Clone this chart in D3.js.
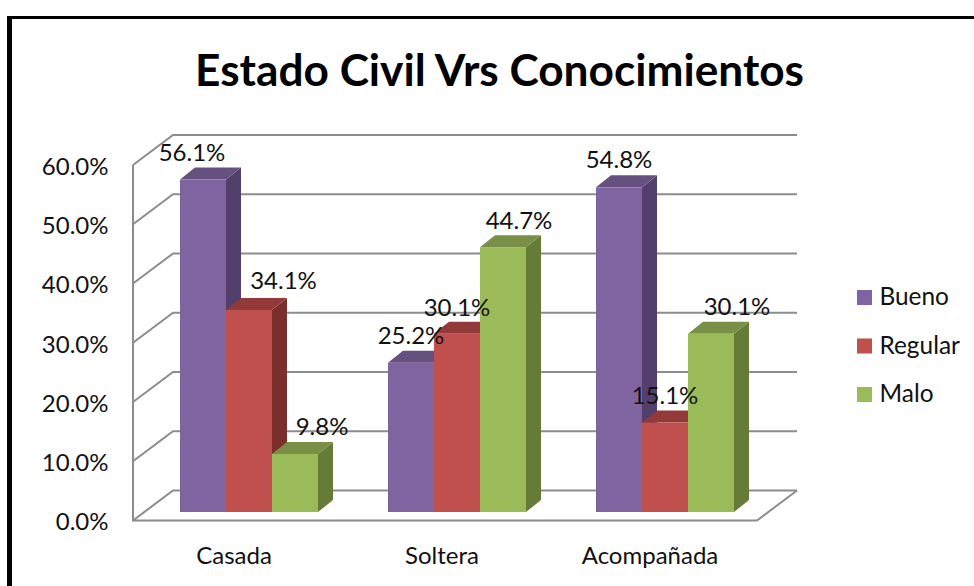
<!DOCTYPE html>
<html><head><meta charset="utf-8">
<script src="https://cdn.jsdelivr.net/npm/d3@7"></script>
<style>html,body{margin:0;padding:0;background:#fff}svg{display:block}text{font-family:Lato,sans-serif;fill:#111}</style>
</head><body><svg id="c" width="974" height="586"></svg>
<script>
const categories = ["Casada","Soltera","Acompañada"];
const seriesNames = ["Bueno","Regular","Malo"];
const bueno = [56.1,25.2,54.8];
const regular = [34.1,30.1,15.1];
const malo = [9.8,44.7,30.1];
const yTicks = [0,10,20,30,40,50,60];
const faceColors = ["#8064A2","#C0504D","#9BBB59"];
const topColors = ["#66507F","#933A38","#788F45"];
const sideColors = ["#533F6B","#7A2F2D","#667B38"];
// hand-placed label nudges from the centre of each bar's top edge, one list per series
const labelDx = [[-11,0,0],[34.5,0,0],[27,16,26]];
const labelDy = [[-27,-27,-27],[-29,-26,-27],[-27,-26,-26.7]];

const svg = d3.select("#c");
const dx = 40, dy = -30, bdx = 15, bdy = -12, floorLift = 8.5;
const x = d3.scaleBand().domain(categories).range([133,757]);
const y = d3.scaleLinear().domain([0,60]).range([520.5,165]);
const barW = 46;
const grid = "#8C8C8C";

// frame
svg.append("rect").attr("x",7).attr("y",16).attr("width",967).attr("height",3).attr("fill","#000");
svg.append("rect").attr("x",7).attr("y",16).attr("width",5).attr("height",570).attr("fill","#000");

// title
svg.append("text").attr("x",499.5).attr("y",86).attr("text-anchor","middle")
  .attr("font-size",44.2).attr("font-weight",700).style("fill","#000").text("Estado Civil Vrs Conocimientos");

// walls
const g = svg.append("g").attr("fill","none").attr("stroke",grid).attr("stroke-width",2);
yTicks.forEach(t=>{
  const yy=y(t);
  g.append("path").attr("d",`M133,${yy}L${133+dx},${yy+dy}H${757+dx}`);
});
g.append("path").attr("d",`M133,${y(60)}V${y(0)}H757L${757+dx},${y(0)+dy}`);

// axes
const yAxis = svg.append("g").attr("transform","translate(108.5,1.5)")
  .call(d3.axisLeft(y).tickValues(yTicks).tickSize(0).tickPadding(0).tickFormat(d=>d.toFixed(1)+"%"));
yAxis.select(".domain").remove();
yAxis.selectAll("text").attr("font-size",24).attr("dy","0.33em").style("font-family","Lato,sans-serif");
const xAxis = svg.append("g").call(d3.axisBottom(x).tickSize(0).tickPadding(0));
xAxis.attr("transform","translate(-3,547)");
xAxis.select(".domain").remove();
xAxis.selectAll("text").attr("font-size",24).attr("dy","0.7em").style("font-family","Lato,sans-serif");

// bars
const values=[bueno,regular,malo];
categories.forEach((c,ci)=>{
  const x0 = x(c)+x.bandwidth()/2+12-barW*1.5;
  values.forEach((vals,si)=>{
    const l=x0+si*barW, r=l+barW, t=y(vals[ci])-floorLift, b=y(0)-floorLift;
    svg.append("path").attr("fill",sideColors[si])
      .attr("d",`M${r},${t}L${r+bdx},${t+bdy}V${b+bdy}L${r},${b}Z`);
    svg.append("path").attr("fill",topColors[si])
      .attr("d",`M${l},${t}L${l+bdx},${t+bdy}H${r+bdx}L${r},${t}Z`);
    svg.append("rect").attr("x",l).attr("y",t).attr("width",barW).attr("height",b-t).attr("fill",faceColors[si]);
  });
});
// labels on top
categories.forEach((c,ci)=>{
  const x0 = x(c)+x.bandwidth()/2+12-barW*1.5;
  values.forEach((vals,si)=>{
    svg.append("text").attr("text-anchor","middle")
      .attr("x",x0+(si+.5)*barW+labelDx[si][ci])
      .attr("y",y(vals[ci])-floorLift+labelDy[si][ci]+8)
      .attr("font-size",24).text(vals[ci].toFixed(1)+"%");
  });
});

// legend
const leg = d3.scalePoint().domain(seriesNames).range([297.5,394.5]);
seriesNames.forEach((n,i)=>{
  svg.append("rect").attr("x",857).attr("y",leg(n)-7.5).attr("width",15).attr("height",15).attr("fill",faceColors[i]);
  svg.append("text").attr("x",879.5).attr("y",leg(n)+7.5).attr("font-size",24.4).text(n);
});
</script></body></html>
